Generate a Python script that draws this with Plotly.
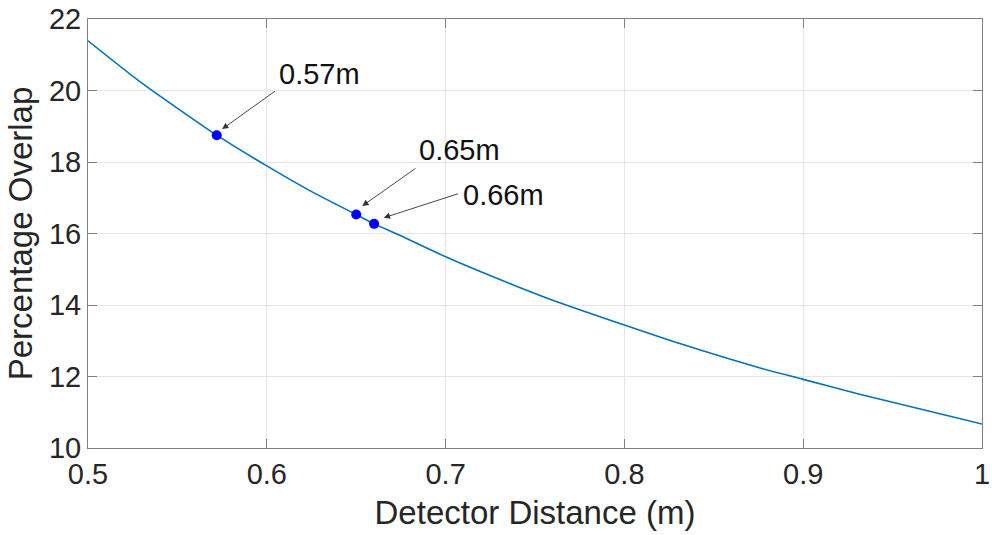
import plotly.graph_objects as go

# Curve
dist = [0.5, 0.529, 0.572, 0.6, 0.624, 0.65, 0.66, 0.674, 0.7, 0.73, 0.758, 0.8, 0.831, 0.875, 0.9, 0.931, 1.0]
overlap = [21.39, 20.25, 18.75, 17.89, 17.20, 16.53, 16.27, 15.96, 15.35, 14.72, 14.17, 13.44, 12.92, 12.25, 11.92, 11.51, 10.67]

# Highlighted points
mark_x = [0.572, 0.650, 0.660]
mark_y = [18.75, 16.53, 16.27]
mark_labels = ["0.57m", "0.65m", "0.66m"]
# label anchor (left-middle) positions and arrow tails / heads, data units
label_x = [0.6056, 0.684, 0.7087]
label_y = [20.47, 18.34, 17.08]
tail_x = [0.6054, 0.684, 0.7078]
tail_y = [20.01, 17.85, 17.125]
head_x = [0.575, 0.6534, 0.6654]
head_y = [18.92, 16.77, 16.44]

xticks = [0.5, 0.6, 0.7, 0.8, 0.9, 1.0]
xticktext = ["0.5", "0.6", "0.7", "0.8", "0.9", "1"]
yticks = [10, 12, 14, 16, 18, 20, 22]

FONT = "Liberation Sans, Arial, sans-serif"
TXT = "#262626"
AX = "#808080"

fig = go.Figure()
fig.add_trace(go.Scatter(x=dist, y=overlap, mode="lines",
                         line=dict(color="#0072BD", width=1.6, shape="spline", smoothing=0.6),
                         showlegend=False))
fig.add_trace(go.Scatter(x=mark_x, y=mark_y, mode="markers", marker=dict(color="#0000FF", size=10),
                         showlegend=False))

anns = []
for i in range(len(mark_x)):
    anns.append(dict(x=head_x[i], y=head_y[i], ax=tail_x[i], ay=tail_y[i], axref="x", ayref="y",
                     xref="x", yref="y", text="", showarrow=True, arrowhead=2, arrowsize=1.4,
                     arrowwidth=0.9, arrowcolor="#333333"))
    anns.append(dict(x=label_x[i], y=label_y[i], xref="x", yref="y", text=mark_labels[i], showarrow=False,
                     xanchor="left", yanchor="middle", font=dict(family=FONT, size=29, color="#111111")))

axis_common = dict(showline=True, linecolor=AX, linewidth=1, mirror="ticks", ticks="inside", ticklen=9,
                   tickcolor=AX, tickwidth=1, showgrid=True, gridcolor="#e6e6e6", gridwidth=1,
                   zeroline=False, automargin=False, tickfont=dict(family=FONT, size=29, color=TXT))

fig.update_layout(
    width=992, height=535,
    margin=dict(l=88, r=10, t=19, b=87),
    paper_bgcolor="white", plot_bgcolor="white",
    xaxis=dict(range=[0.5, 1.0], tickvals=xticks, ticktext=xticktext,
               title=dict(text="Detector Distance (m)", font=dict(family=FONT, size=33, color=TXT), standoff=12),
               **axis_common),
    yaxis=dict(range=[10, 22], tickvals=yticks,
               title=dict(text="Percentage Overlap", font=dict(family=FONT, size=33, color=TXT), standoff=6),
               **axis_common),
    annotations=anns,
)

fig.write_html("out.html")
